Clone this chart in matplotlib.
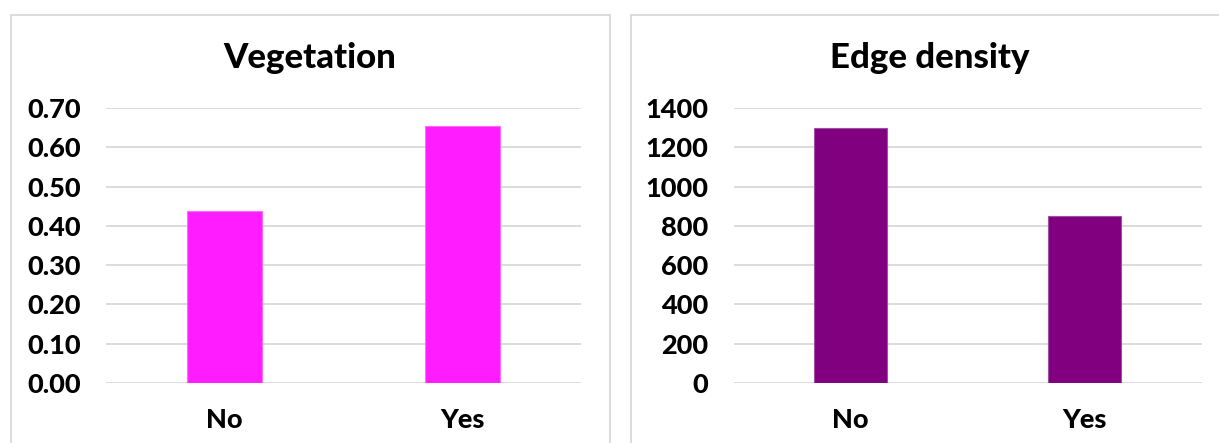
import matplotlib.pyplot as plt
from matplotlib.patches import Rectangle

# Data
categories = ["No", "Yes"]
vegetation = [0.438, 0.654]
edge_density = [1298, 850]

veg_ticks = [0.0, 0.1, 0.2, 0.3, 0.4, 0.5, 0.6, 0.7]
edge_ticks = [0, 200, 400, 600, 800, 1000, 1200, 1400]

W, H = 1219, 443
DPI = 100
FONT = "Lato"
WEIGHT = "black"

fig = plt.figure(figsize=(W / DPI, H / DPI), dpi=DPI)
fig.patch.set_facecolor("white")


def px_axes(x0, y0_top, x1, y1_top):
    """Axes given pixel box measured from the top-left corner."""
    return fig.add_axes([x0 / W, 1 - y1_top / H, (x1 - x0) / W, (y1_top - y0_top) / H])


def panel_frame(x0, y0_top, x1, y1_top):
    fig.patches.append(Rectangle((x0 / W, 1 - y1_top / H), (x1 - x0) / W, (y1_top - y0_top) / H,
                                 transform=fig.transFigure, fill=False,
                                 edgecolor="#D9D9D9", linewidth=1.3, zorder=0))


def draw_panel(ax, values, ticks, color, edge, fmt, title, title_x, width):
    ax.bar(range(len(categories)), values, width=width, color=color,
           edgecolor=edge, linewidth=0.8, zorder=3)
    ax.set_xlim(-0.5, len(categories) - 0.5)
    ax.set_ylim(ticks[0], ticks[-1])
    ax.set_yticks(ticks)
    ax.set_yticklabels([fmt(t) for t in ticks], fontfamily=FONT, fontweight=WEIGHT,
                       fontsize=19.5, color="black")
    ax.set_xticks(range(len(categories)))
    ax.set_xticklabels(categories, fontfamily=FONT, fontweight=WEIGHT,
                       fontsize=19.5, color="black")
    ax.tick_params(axis="y", length=0, pad=18)
    ax.tick_params(axis="x", length=0, pad=18)
    ax.grid(axis="y", color="#D9D9D9", linewidth=1.3, zorder=0)
    ax.set_axisbelow(True)
    for s in ax.spines.values():
        s.set_visible(False)
    ax.patch.set_alpha(0)
    fig.text(title_x / W, 1 - 68 / H, title, ha="center", va="baseline",
             fontfamily=FONT, fontweight=WEIGHT, fontsize=25, color="black")


# Left panel: vegetation
panel_frame(11, 15, 610, 460)
ax1 = px_axes(106, 108, 581, 383)
draw_panel(ax1, vegetation, veg_ticks, "#FF1CFF", "#FF6BFF",
           lambda t: f"{t:.2f}", "Vegetation", 310, 0.316)

# Right panel: edge density
panel_frame(631, 15, 1240, 460)
ax2 = px_axes(733.5, 108, 1201.5, 383)
draw_panel(ax2, edge_density, edge_ticks, "#800080", "#A050A0",
           lambda t: f"{t:.0f}", "Edge density", 930, 0.312)

fig.savefig("out.png", dpi=DPI, facecolor="white")
